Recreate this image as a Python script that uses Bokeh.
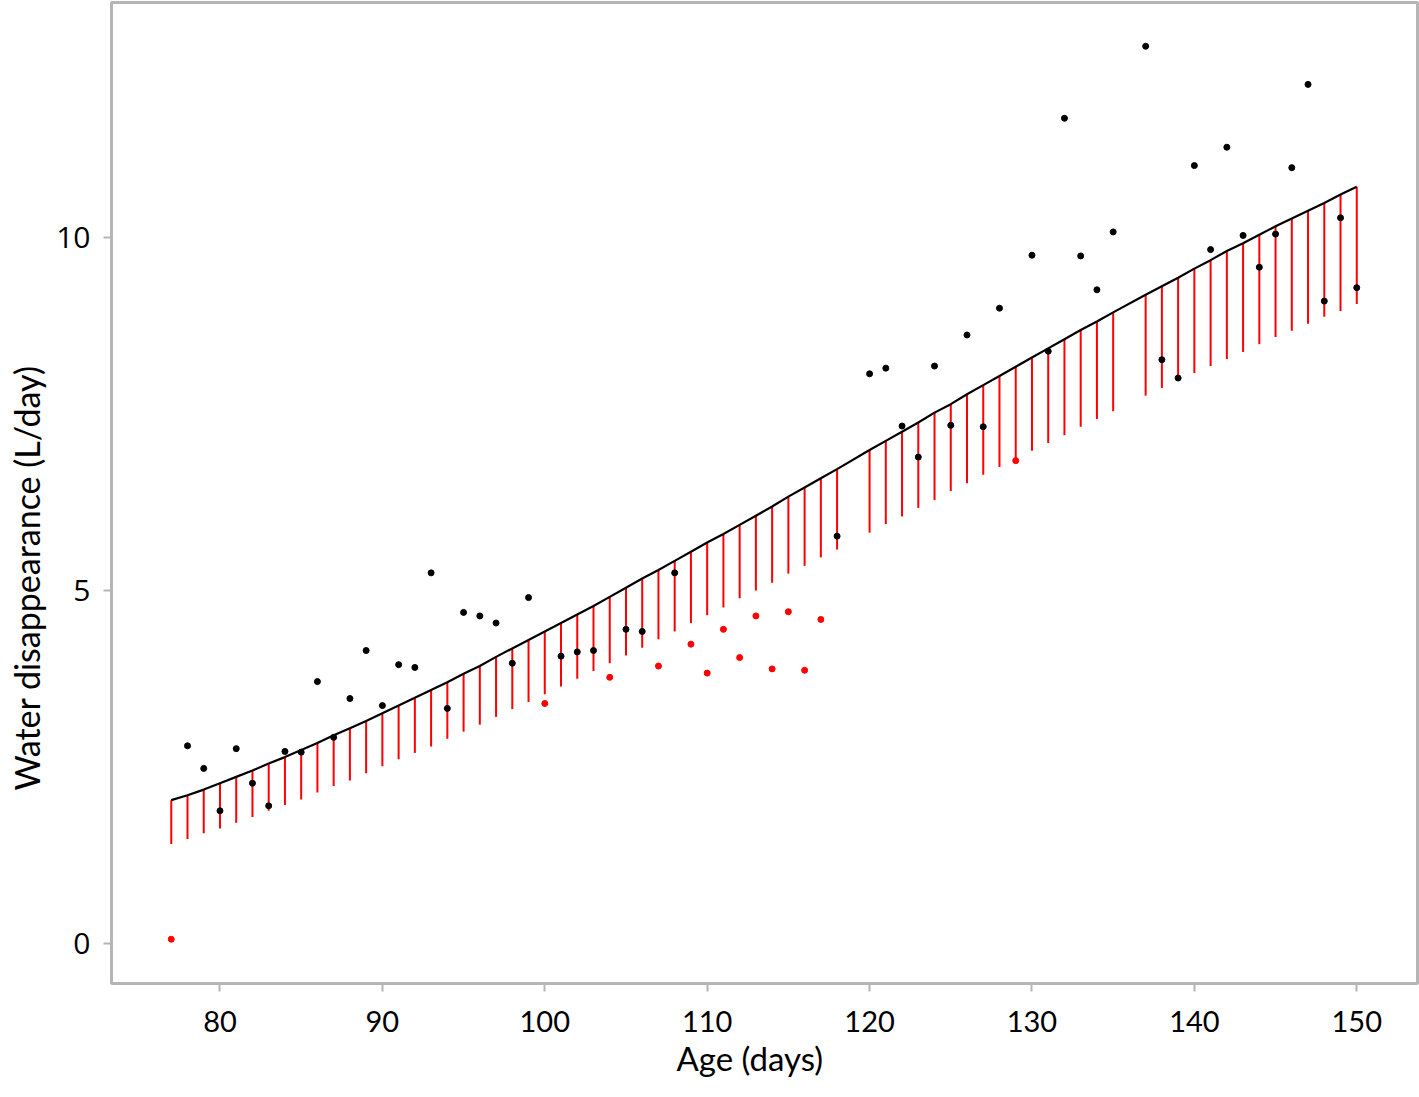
from bokeh.plotting import figure
from bokeh.models import Range1d, FixedTicker, ColumnDataSource, Title
from bokeh.embed import file_html
from bokeh.resources import INLINE

# ---- data ----
days = list(range(77, 119)) + list(range(120, 136)) + list(range(137, 151))

observed = [0.06, 2.80, 2.48, 1.88, 2.76, 2.27, 1.95, 2.72, 2.71, 3.71,
            2.92, 3.47, 4.15, 3.37, 3.95, 3.91, 5.25, 3.33, 4.69, 4.64,
            4.54, 3.97, 4.90, 3.40, 4.07, 4.13, 4.15, 3.77, 4.45, 4.42,
            3.93, 5.25, 4.24, 3.83, 4.45, 4.05, 4.64, 3.89, 4.70, 3.87,
            4.59, 5.77,
            8.07, 8.15, 7.33, 6.89, 8.18, 7.34, 8.62, 7.32, 9.00, 6.84,
            9.75, 8.39, 11.69, 9.74, 9.26, 10.08,
            12.71, 8.27, 8.01, 11.02, 9.83, 11.28, 10.03, 9.58, 10.05, 10.99,
            12.17, 9.10, 10.28, 9.29]

fitted = [2.03, 2.10, 2.18, 2.27, 2.36, 2.45, 2.55, 2.64, 2.74, 2.84,
          2.95, 3.05, 3.15, 3.26, 3.37, 3.48, 3.59, 3.70, 3.82, 3.93,
          4.06, 4.18, 4.30, 4.42, 4.54, 4.66, 4.78, 4.91, 5.04, 5.17,
          5.29, 5.42, 5.55, 5.68, 5.80, 5.93, 6.06, 6.19, 6.33, 6.46,
          6.59, 6.72,
          6.99, 7.12, 7.25, 7.38, 7.52, 7.64, 7.78, 7.91, 8.04, 8.17,
          8.30, 8.43, 8.56, 8.69, 8.81, 8.94,
          9.19, 9.31, 9.43, 9.56, 9.68, 9.81, 9.92, 10.04, 10.16, 10.27,
          10.38, 10.49, 10.61, 10.72]

lower = [1.41, 1.48, 1.56, 1.63, 1.71, 1.79, 1.88, 1.96, 2.04, 2.14,
         2.23, 2.31, 2.41, 2.51, 2.61, 2.70, 2.79, 2.90, 3.00, 3.10,
         3.21, 3.32, 3.42, 3.53, 3.64, 3.75, 3.86, 3.97, 4.08, 4.19,
         4.31, 4.42, 4.54, 4.65, 4.76, 4.89, 5.00, 5.11, 5.24, 5.35,
         5.47, 5.58,
         5.82, 5.94, 6.05, 6.17, 6.28, 6.41, 6.52, 6.64, 6.75, 6.86,
         6.98, 7.09, 7.20, 7.32, 7.43, 7.54,
         7.76, 7.87, 7.97, 8.08, 8.18, 8.28, 8.38, 8.49, 8.59, 8.68,
         8.78, 8.88, 8.96, 9.06]

x_ticks = [80, 90, 100, 110, 120, 130, 140, 150]
y_ticks = [0, 5, 10]

dot_colors = ["#ff0000" if o < lo else "#000000" for o, lo in zip(observed, lower)]

src = ColumnDataSource(dict(day=days, obs=observed, fit=fitted, low=lower, col=dot_colors))

p = figure(width=1419, height=1097, output_backend="svg", toolbar_location=None,
           x_range=Range1d(73.32, 153.74), y_range=Range1d(-0.567, 13.33),
           min_border_left=111, min_border_right=2, min_border_top=2,
           min_border_bottom=114)

p.grid.visible = False
p.background_fill_color = "white"
p.border_fill_color = "white"
p.outline_line_color = "#b5b5b5"
p.outline_line_width = 3

p.segment(x0="day", y0="low", x1="day", y1="fit", source=src,
          line_color="#ff0000", line_width=2)
p.line(x="day", y="fit", source=src, line_color="black", line_width=2.2)
p.scatter(x="day", y="obs", source=src, size=6, fill_color="col", line_color="col")

for ax in (p.xaxis, p.yaxis):
    ax.axis_line_color = None
    ax.major_tick_line_color = "#b5b5b5"
    ax.major_tick_line_width = 2
    ax.major_tick_out = 8
    ax.major_tick_in = 0
    ax.minor_tick_line_color = None
    ax.major_label_text_color = "black"

p.xaxis.ticker = FixedTicker(ticks=x_ticks)
p.yaxis.ticker = FixedTicker(ticks=y_ticks)

p.xaxis.major_label_text_font = "Lato"
p.xaxis.major_label_text_font_size = "29px"
p.xaxis.major_label_standoff = 19
p.yaxis.major_label_text_font = "Open Sans"
p.yaxis.major_label_text_font_size = "30px"
p.yaxis.major_label_standoff = 13

xtitle = Title(text="Age (days)", align="left", offset=565, standoff=2,
               text_font="Lato", text_font_size="33px",
               text_font_style="normal", text_color="black")
p.add_layout(xtitle, "below")

ytitle = Title(text="Water disappearance (L/day)", align="left", offset=193,
               standoff=9, vertical_align="top", text_font="Lato",
               text_font_size="34px", text_font_style="normal", text_color="black")
p.add_layout(ytitle, "left")

open("out.html", "w").write(file_html(p, INLINE))
